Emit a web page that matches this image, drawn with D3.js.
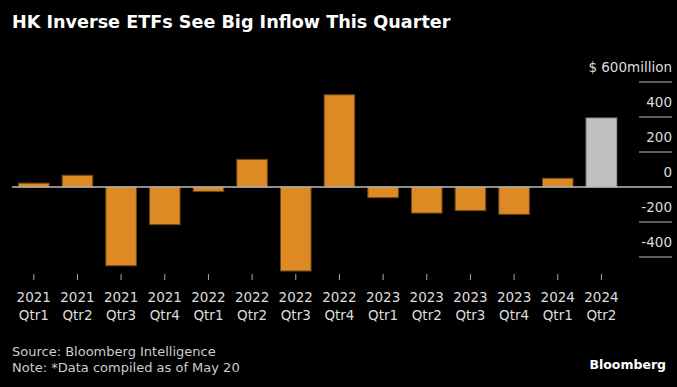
<!DOCTYPE html>
<html>
<head>
<meta charset="utf-8">
<script src="https://cdnjs.cloudflare.com/ajax/libs/d3/7.8.5/d3.min.js"></script>
<style>
  html, body { margin: 0; padding: 0; background: #000; }
  svg { display: block; }
</style>
</head>
<body>
<div id="chart"></div>
<script>
const years = ['2021', '2021', '2021', '2021', '2022', '2022', '2022', '2022', '2023', '2023', '2023', '2023', '2024', '2024'];
const quarters = ['Qtr1', 'Qtr2', 'Qtr3', 'Qtr4', 'Qtr1', 'Qtr2', 'Qtr3', 'Qtr4', 'Qtr1', 'Qtr2', 'Qtr3', 'Qtr4', 'Qtr1', 'Qtr2'];
const flows = [22, 67, -450, -215, -25, 158, -480, 527, -61, -149, -135, -156, 50, 394];
const yTicks = [-400, -200, 0, 200, 400, 600];
const yTickLabels = ['-400', '-200', '0', '200', '400', '$ 600million'];

const width = 677, height = 387;
const font = '"DejaVu Sans", sans-serif';

const svg = d3.select('#chart')
    .append('svg')
    .attr('width', width)
    .attr('height', height);

svg.append('rect').attr('width', width).attr('height', height).attr('fill', '#000');

// title
svg.append('text')
    .attr('x', 12)
    .attr('y', 28)
    .attr('fill', '#fff')
    .style('font-family', font)
    .style('font-size', '17.6px')
    .style('font-weight', 'bold')
    .text('HK Inverse ETFs See Big Inflow This Quarter');

const data = flows.map((v, i) => ({ key: i, year: years[i], qtr: quarters[i], value: v }));

const x = d3.scaleBand()
    .domain(data.map(d => d.key))
    .range([5.4, 629.8])
    .padding(0.3);

const y = d3.scaleLinear()
    .domain([-400, 600])
    .range([257, 82]);

// y gridlines + labels on right
const yg = svg.append('g');
yg.selectAll('.grid')
    .data(yTicks.filter(t => t !== 0))
    .enter()
    .append('line')
    .attr('x1', 639)
    .attr('x2', 672)
    .attr('y1', d => y(d))
    .attr('y2', d => y(d))
    .attr('stroke', '#bbb')
    .attr('stroke-width', 1);

yg.selectAll('.ylab')
    .data(yTicks)
    .enter()
    .append('text')
    .attr('x', 672)
    .attr('y', d => y(d) - 10)
    .attr('text-anchor', 'end')
    .attr('fill', '#ddd')
    .style('font-family', font)
    .style('font-size', '13.5px')
    .text((d, i) => yTickLabels[i]);

// bars
svg.selectAll('.bar')
    .data(data)
    .enter()
    .append('rect')
    .attr('class', 'bar')
    .attr('x', d => x(d.key))
    .attr('y', d => y(Math.max(0, d.value)))
    .attr('width', x.bandwidth())
    .attr('height', d => Math.abs(y(d.value) - y(0)))
    .attr('fill', (d, i) => i === data.length - 1 ? '#c0c0c0' : '#dd8a25')
    .attr('stroke', (d, i) => i === data.length - 1 ? '#9a9a9a' : '#6e4714')
    .attr('stroke-width', 1);

// zero line
svg.append('line')
    .attr('x1', 12)
    .attr('x2', 672)
    .attr('y1', y(0))
    .attr('y2', y(0))
    .attr('stroke', '#bbb')
    .attr('stroke-width', 1.5);

// x axis ticks and two-line labels
const xa = svg.append('g');
xa.selectAll('.xtick')
    .data(data)
    .enter()
    .append('line')
    .attr('x1', d => x(d.key) + x.bandwidth() / 2)
    .attr('x2', d => x(d.key) + x.bandwidth() / 2)
    .attr('y1', 274)
    .attr('y2', 280)
    .attr('stroke', '#aaa')
    .attr('stroke-width', 1);

const xl = xa.selectAll('.xlab')
    .data(data)
    .enter()
    .append('text')
    .attr('text-anchor', 'middle')
    .attr('fill', '#ddd')
    .style('font-family', font)
    .style('font-size', '13.5px');
xl.append('tspan')
    .attr('x', d => x(d.key) + x.bandwidth() / 2)
    .attr('y', 302)
    .text(d => d.year);
xl.append('tspan')
    .attr('x', d => x(d.key) + x.bandwidth() / 2)
    .attr('y', 320)
    .text(d => d.qtr);

// footer
svg.append('text')
    .attr('x', 12)
    .attr('y', 356)
    .attr('fill', '#ccc')
    .style('font-family', font)
    .style('font-size', '13px')
    .text('Source: Bloomberg Intelligence');
svg.append('text')
    .attr('x', 12)
    .attr('y', 372)
    .attr('fill', '#ccc')
    .style('font-family', font)
    .style('font-size', '13px')
    .text('Note: *Data compiled as of May 20');

svg.append('text')
    .attr('x', 666)
    .attr('y', 369)
    .attr('text-anchor', 'end')
    .attr('fill', '#fff')
    .style('font-family', font)
    .style('font-size', '12.5px')
    .style('font-weight', 'bold')
    .text('Bloomberg');
</script>
</body>
</html>
